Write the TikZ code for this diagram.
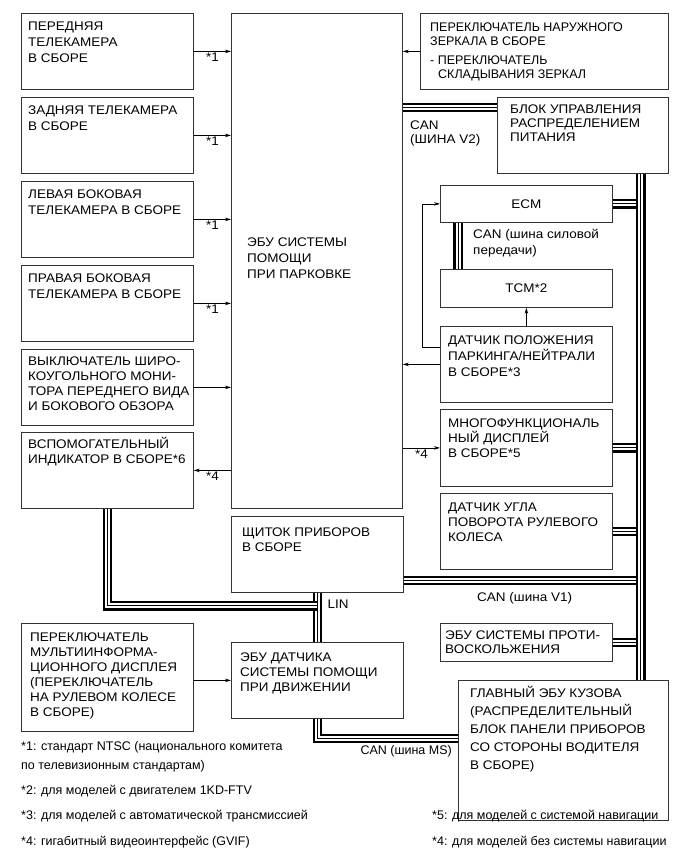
\documentclass[tikz,border=0pt]{standalone}
\usepackage{fontspec}
\setmainfont{Liberation Sans}
\newfontfamily\widefont[FakeStretch=1.08]{Liberation Sans}
\usetikzlibrary{arrows.meta}
\newcommand{\fstrut}{\rule{0pt}{11pt}}
\tikzset{
  blk/.style={draw=black!80, line width=0.8pt, anchor=north west, inner sep=0pt,
    font=\widefont\fontsize{12.5}{16}\selectfont},
  txt/.style={anchor=north west, inner sep=0pt, align=left, font=\widefont\fontsize{12.5}{#1}\selectfont},
  txt/.default=16,
  fnote/.style={anchor=north west, inner sep=0pt, align=left, font=\fontsize{12.5}{#1}\selectfont},
  fnote/.default=16,
}
\begin{document}
\begin{tikzpicture}[x=1pt, y=-1pt,
    arr/.style={-{Stealth[length=6pt,width=3.5pt]}, line width=0.7pt},
    bus/.style={line width=1pt, preaction={draw, line width=9.6pt},
      preaction={draw, white, line width=5pt}},
    note/.style={font=\widefont\fontsize{12.5}{15}\selectfont, inner sep=1.5pt}]
    % Cadre
    \useasboundingbox (0,0) rectangle (691,855);
    % Blocs de gauche
    \node[blk, minimum width=172pt, minimum height=76pt] (cama) at (21,13) {};
    \node[txt] (cama-t) at ([xshift=7pt, yshift=-6.5pt]cama.north west) {\fstrut ПЕРЕДНЯЯ\\ТЕЛЕКАМЕРА\\В СБОРЕ};
    \node[blk, minimum width=172pt, minimum height=76pt] (camz) at (21,97) {};
    \node[txt] (camz-t) at ([xshift=7pt, yshift=-6.5pt]camz.north west) {\fstrut ЗАДНЯЯ ТЕЛЕКАМЕРА\\В СБОРЕ};
    \node[blk, minimum width=172pt, minimum height=76pt] (caml) at (21,181) {};
    \node[txt] (caml-t) at ([xshift=7pt, yshift=-6.5pt]caml.north west) {\fstrut ЛЕВАЯ БОКОВАЯ\\ТЕЛЕКАМЕРА В СБОРЕ};
    \node[blk, minimum width=172pt, minimum height=76pt] (camp) at (21,265) {};
    \node[txt] (camp-t) at ([xshift=7pt, yshift=-6.5pt]camp.north west) {\fstrut ПРАВАЯ БОКОВАЯ\\ТЕЛЕКАМЕРА В СБОРЕ};
    \node[blk, minimum width=172pt, minimum height=76pt] (wsw) at (21,349) {};
    \node[txt=15] (wsw-t) at ([xshift=7pt, yshift=-5.5pt]wsw.north west) {\fstrut ВЫКЛЮЧАТЕЛЬ ШИРО-\\КОУГОЛЬНОГО МОНИ-\\ТОРА ПЕРЕДНЕГО ВИДА\\И БОКОВОГО ОБЗОРА};
    \node[blk, minimum width=172pt, minimum height=76pt] (ind) at (21,432) {};
    \node[txt=15] (ind-t) at ([xshift=7pt, yshift=-5pt]ind.north west) {\fstrut ВСПОМОГАТЕЛЬНЫЙ\\ИНДИКАТОР В СБОРЕ*6};
    \node[blk, minimum width=172pt, minimum height=108pt] (mid) at (21,623) {};
    \node[txt=15] (mid-t) at ([xshift=9pt, yshift=-7.5pt]mid.north west) {\fstrut ПЕРЕКЛЮЧАТЕЛЬ\\МУЛЬТИИНФОРМА-\\ЦИОННОГО ДИСПЛЕЯ\\(ПЕРЕКЛЮЧАТЕЛЬ\\НА РУЛЕВОМ КОЛЕСЕ\\В СБОРЕ)};
    % Blocs du milieu
    \node[blk, minimum width=171pt, minimum height=495pt] (ecu) at (231,13) {};
    \node[txt] (ecu-t) at ([xshift=16pt, yshift=-222.5pt]ecu.north west) {\fstrut ЭБУ СИСТЕМЫ\\ПОМОЩИ\\ПРИ ПАРКОВКЕ};
    \node[blk, minimum width=172pt, minimum height=76pt] (ipc) at (231,516) {};
    \node[txt=15] (ipc-t) at ([xshift=11pt, yshift=-9.5pt]ipc.north west) {\fstrut ЩИТОК ПРИБОРОВ\\В СБОРЕ};
    \node[blk, minimum width=172pt, minimum height=76pt] (dae) at (231,642) {};
    \node[txt=15] (dae-t) at ([xshift=9pt, yshift=-8.5pt]dae.north west) {\fstrut ЭБУ ДАТЧИКА\\СИСТЕМЫ ПОМОЩИ\\ПРИ ДВИЖЕНИИ};
    % Blocs de droite
    \node[blk, minimum width=248pt, minimum height=76pt] (mir) at (420,13) {};
    \node[fnote=14] (mir-t) at ([xshift=10pt, yshift=-7.5pt]mir.north west) {\fstrut ПЕРЕКЛЮЧАТЕЛЬ НАРУЖНОГО\\ЗЕРКАЛА В СБОРЕ\\[5pt]- ПЕРЕКЛЮЧАТЕЛЬ\\\hspace*{8pt}СКЛАДЫВАНИЯ ЗЕРКАЛ};
    \node[blk, minimum width=171pt, minimum height=76pt] (pwr) at (497,97) {};
    \node[txt=14] (pwr-t) at ([xshift=13pt, yshift=-5.5pt]pwr.north west) {\fstrut БЛОК УПРАВЛЕНИЯ\\РАСПРЕДЕЛЕНИЕМ\\ПИТАНИЯ};
    \node[blk, minimum width=172pt, minimum height=37pt] (ecm) at (440,185) {ECM};
    \node[blk, minimum width=172pt, minimum height=38pt] (tcm) at (440,269) {TCM*2};
    \node[blk, minimum width=172pt, minimum height=76pt] (pn) at (440,326) {};
    \node[txt] (pn-t) at ([xshift=8pt, yshift=-7.5pt]pn.north west) {\fstrut ДАТЧИК ПОЛОЖЕНИЯ\\ПАРКИНГА/НЕЙТРАЛИ\\В СБОРЕ*3};
    \node[blk, minimum width=172pt, minimum height=77pt] (mfd) at (440,409) {};
    \node[txt=15] (mfd-t) at ([xshift=8pt, yshift=-7.5pt]mfd.north west) {\fstrut МНОГОФУНКЦИОНАЛЬ\\НЫЙ ДИСПЛЕЙ\\В СБОРЕ*5};
    \node[blk, minimum width=172pt, minimum height=76pt] (sas) at (440,493) {};
    \node[txt=15] (sas-t) at ([xshift=8pt, yshift=-7.5pt]sas.north west) {\fstrut ДАТЧИК УГЛА\\ПОВОРОТА РУЛЕВОГО\\КОЛЕСА};
    \node[blk, minimum width=172pt, minimum height=38pt] (abs) at (440,623) {};
    \node[txt=14] (abs-t) at ([xshift=5pt, yshift=-5.5pt]abs.north west) {\fstrut ЭБУ СИСТЕМЫ ПРОТИ-\\ВОСКОЛЬЖЕНИЯ};
    \node[blk, minimum width=210pt, minimum height=140pt] (body) at (458,680) {};
    \node[txt=18] (body-t) at ([xshift=12pt, yshift=-5.5pt]body.north west) {\fstrut ГЛАВНЫЙ ЭБУ КУЗОВА\\(РАСПРЕДЕЛИТЕЛЬНЫЙ\\БЛОК ПАНЕЛИ ПРИБОРОВ\\СО СТОРОНЫ ВОДИТЕЛЯ\\В СБОРЕ)};
    % Liaisons simples
    \foreach \nm in {cama,camz,caml,camp}
        \draw[arr] (\nm.east) -- (\nm.east -| ecu.west) node[note, midway, below] (\nm-n) {*1};
    \draw[arr] (wsw.east) -- (wsw.east -| ecu.west);
    \draw[arr] (ind.east -| ecu.west) -- (ind.east) node[note, midway, below] (ind-n) {*4};
    \draw[arr] (mir.west) -- (mir.west -| ecu.east);
    \draw[arr] (pn.west) -- (pn.west -| ecu.east);
    \draw[arr] (mfd.west -| ecu.east) -- (mfd.west) node[note, midway, below] (mfd-n) {*4};
    \draw[arr] (pn.north) -- (tcm.south);
    \draw[arr] ([yshift=17pt]pn.west) -- ++(-18,0) |- (ecm.west);
    \draw[arr] (dae.west -| mid.east) -- (dae.west);
    % Bus CAN et LIN
    \coordinate (bus-top) at ([xshift=-28pt]pwr.south east);
    \coordinate (bus-bot) at (bus-top |- body.north);
    \coordinate (lin-j) at ([yshift=-13pt]ipc.south);
    \draw[bus] ([yshift=28pt]pwr.west) -- ([yshift=28pt]pwr.west -| ecu.east);
    \node[txt=14] (v2) at (410,118.5) {\fstrut CAN\\(ШИНА V2)};
    \draw[bus] ([xshift=18pt]ecm.south west) -- ([xshift=18pt]tcm.north west);
    \node[txt] (pt) at (473,227.5) {\fstrut CAN (шина силовой\\передачи)};
    \foreach \nm in {ecm,mfd,sas,abs}
        \draw[bus] (\nm.east) -- (\nm.east -| bus-top);
    \draw[bus] ([yshift=-26pt]ipc.east) -- ([yshift=-26pt]ipc.east -| bus-top);
    \node[note, anchor=west, inner sep=0pt] (v1) at (477,598) {CAN (шина V1)};
    \draw[bus] (bus-top) -- (bus-bot);
    \draw[bus] (ipc.south) -- (dae.north);
    \draw[bus] (ind.south) |- (lin-j);
    \node[note, anchor=west] (lin) at (326,604) {LIN};
    \draw[bus] (dae.south) |- ([yshift=12pt]body.west);
    \node[note, font=\fontsize{12.5}{15}\selectfont, anchor=east, inner sep=0pt] (ms) at (452,751) {CAN (шина MS)};
    % Renvois
    \node[fnote=19] (fn1) at (21,739.5) {\fstrut *1: стандарт NTSC (национального комитета\\по телевизионным стандартам)};
    \node[fnote] (fn2) at (21,783.5) {\fstrut *2: для моделей с двигателем 1KD-FTV};
    \node[fnote] (fn3) at (21,808.5) {\fstrut *3: для моделей с автоматической трансмиссией};
    \node[fnote] (fn4) at (21,834.5) {\fstrut *4: гигабитный видеоинтерфейс (GVIF)};
    \node[fnote] (fn5) at (432,808.5) {\fstrut *5: для моделей с системой навигации};
    \node[fnote] (fn6) at (432,834.5) {\fstrut *4: для моделей без системы навигации};
\end{tikzpicture}
\end{document}
